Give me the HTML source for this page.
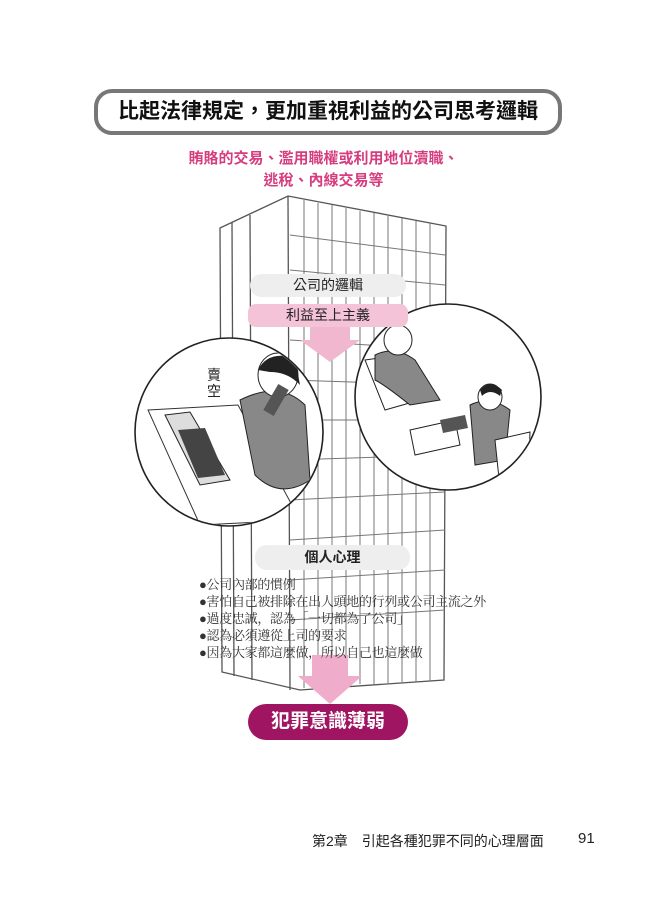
<!DOCTYPE html>
<html><head><meta charset="utf-8"><style>
body{margin:0;background:#fff;}
#p{position:relative;width:647px;height:900px;overflow:hidden;background:#fff;font-family:"Liberation Sans","Noto Sans CJK TC",sans-serif;}
.a{position:absolute;white-space:nowrap;}
</style></head><body><div id="p">
<svg width="647" height="900" style="position:absolute;left:0;top:0">
<defs>
<clipPath id="cl"><circle cx="229" cy="432" r="93"/></clipPath>
<clipPath id="cr"><circle cx="448" cy="397" r="92"/></clipPath>
</defs>
<g stroke="#555" stroke-width="1.3" fill="none">
<path d="M220 228 L288 196 L446 226 L444 680 L300 690 L222 672 Z" fill="#fff"/>
<path d="M288 196 L290 690"/>
<path d="M250 215 L252 680"/>
<path d="M232 222 L234 676"/>
</g>
<g stroke="#777" stroke-width="1">
<path d="M304 200 L304 688 M318 203 L318 687 M332 205 L332 686 M346 208 L346 685 M360 211 L360 684 M374 213 L374 684 M388 216 L388 683 M402 218 L402 682 M416 221 L416 682 M430 223 L430 681"/>
<path d="M290 235 L445 255 M290 270 L445 285 M290 305 L445 318 M290 340 L445 350 M290 380 L445 385 M290 420 L445 420 M290 460 L445 455 M290 500 L445 492 M290 540 L445 530 M290 580 L445 570 M290 620 L445 610"/>
</g>
<circle cx="229" cy="432" r="94" fill="#fff" stroke="#222" stroke-width="1.6"/>
<g clip-path="url(#cl)">
<path d="M148 410 L238 405 L300 520 L200 525 Z" fill="#fff" stroke="#333"/>
<path d="M165 415 L190 412 L230 480 L200 485 Z" fill="#ddd" stroke="#222"/>
<path d="M178 430 L205 428 L225 475 L198 478 Z" fill="#444"/>
<path d="M240 400 Q280 380 305 405 L310 480 Q280 500 255 475 Z" fill="#888" stroke="#222"/>
<ellipse cx="278" cy="375" rx="20" ry="22" fill="#fff" stroke="#222"/>
<path d="M258 370 Q268 350 295 358 L300 385 Q288 372 270 372 Z" fill="#222"/>
<rect x="270" y="385" width="12" height="30" fill="#555" transform="rotate(30 276 400)"/>
</g>
<text x="207" y="380" font-size="14" fill="#222" font-family="Liberation Sans,Noto Sans CJK TC,sans-serif">賣</text>
<text x="207" y="396" font-size="14" fill="#222" font-family="Liberation Sans,Noto Sans CJK TC,sans-serif">空</text>
<circle cx="448" cy="397" r="93" fill="#fff" stroke="#222" stroke-width="1.6"/>
<g clip-path="url(#cr)">
<path d="M365 360 L400 355 L420 400 L385 410 Z" fill="#fff" stroke="#222"/>
<path d="M375 355 Q395 345 415 360 L440 400 L410 405 Q385 385 375 380 Z" fill="#888" stroke="#222"/>
<ellipse cx="398" cy="340" rx="14" ry="15" fill="#fff" stroke="#222"/>
<path d="M410 430 L455 420 L460 445 L415 455 Z" fill="#fff" stroke="#222"/>
<path d="M440 420 L465 415 L468 428 L443 433 Z" fill="#555"/>
<path d="M470 405 Q490 395 510 410 L505 460 L475 465 Z" fill="#888" stroke="#222"/>
<ellipse cx="490" cy="397" rx="12" ry="13" fill="#fff" stroke="#222"/>
<path d="M480 390 Q490 378 502 390 L500 396 Q490 388 482 396 Z" fill="#222"/>
<path d="M495 440 L530 432 L528 480 L500 488 Z" fill="#fff" stroke="#222"/>
</g>
<path d="M310 326 L350 326 L350 340 L360 340 L330 362 L300 340 L310 340 Z" fill="#f0b7ce"/>
<path d="M312 655 L348 655 L348 676 L362 676 L330 704 L298 676 L312 676 Z" fill="#efaccb"/>
</svg>
<div class="a" style="left:94px;top:89px;width:460px;height:38px;border:4px solid #777;border-radius:18px;background:#fff;font-size:21px;font-weight:bold;line-height:38px;text-align:center;color:#111;">比起法律規定，更加重視利益的公司思考邏輯</div>
<div class="a" style="left:0;width:647px;top:148px;text-align:center;font-size:15px;line-height:22px;color:#d63d7f;font-weight:bold;">賄賂的交易、濫用職權或利用地位瀆職、<br>逃稅、內線交易等</div>
<div class="a" style="left:250px;top:274px;width:156px;height:23px;background:#eee;border-radius:12px;text-align:center;font-size:14px;line-height:23px;color:#222;">公司的邏輯</div>
<div class="a" style="left:248px;top:304px;width:160px;height:23px;background:#f4c3d7;border-radius:8px;text-align:center;font-size:14px;line-height:23px;color:#222;">利益至上主義</div>
<div class="a" style="left:255px;top:545px;width:155px;height:25px;background:#eee;border-radius:12px;text-align:center;font-size:14px;font-weight:bold;line-height:25px;color:#222;">個人心理</div>
<div class="a" style="left:199px;top:576px;font-size:13px;line-height:17px;color:#333;font-family:'Liberation Serif','Noto Serif CJK SC',serif;letter-spacing:-0.3px;">●公司內部的慣例<br>●害怕自己被排除在出人頭地的行列或公司主流之外<br>●過度忠誠，認為「一切都為了公司」<br>●認為必須遵從上司的要求<br>●因為大家都這麼做，所以自己也這麼做</div>
<div class="a" style="left:248px;top:704px;width:160px;height:36px;background:#a01561;border-radius:18px;text-align:center;font-size:19px;font-weight:bold;line-height:36px;color:#fff;">犯罪意識薄弱</div>
<div class="a" style="left:312px;top:831px;font-size:14px;color:#222;">第2章　引起各種犯罪不同的心理層面</div>
<div class="a" style="left:578px;top:830px;font-size:15px;color:#222;">91</div>
</div></body></html>
